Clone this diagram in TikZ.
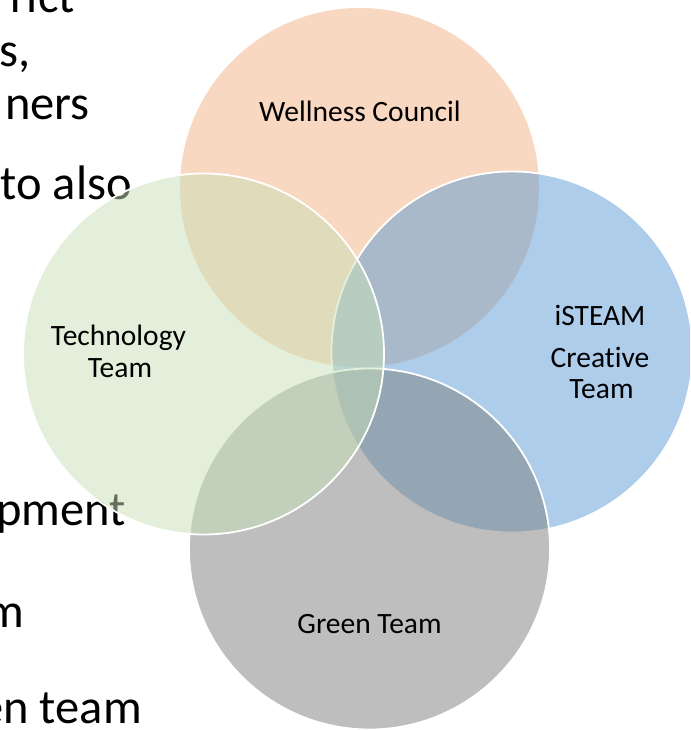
\documentclass[tikz,border=0pt]{standalone}
\usepackage{fontspec}
\setmainfont{Carlito}[Ligatures={NoCommon}]
\definecolor{peachbase}{RGB}{244,177,131}
\definecolor{bluebase}{RGB}{91,155,213}
\definecolor{greenbase}{RGB}{199,224,182}
\definecolor{graybase}{RGB}{125,125,125}
\tikzset{
  venn/.style={circle, inner sep=0pt, minimum size=361pt, draw=white, line width=1.8pt, fill opacity=0.5, draw opacity=1},
  bgtext/.style={anchor=base east, inner sep=0pt, font=\fontsize{48.5}{56}\selectfont, text=black},
  lbl/.style={anchor=base, inner sep=0pt, font=\fontsize{29.5}{32}\selectfont, text=black}
}
\begin{document}
\begin{tikzpicture}[x=1pt,y=-1pt]
\useasboundingbox (0,0) rectangle (690,730);
\clip (0,0) rectangle (690,730);
% background slide text fragments
\node[bgtext] (b1) at (75,13) {rict};
\node[bgtext] (b2) at (31,67) {s,};
\node[bgtext] (b3) at (90,120) {ners};
\node[bgtext] (b4) at (132,199) {to also};
\node[bgtext] (b5) at (126,525) {pment};
\node[bgtext] (b6) at (24,627) {m};
\node[bgtext] (b7) at (142,723) {en team};
% circles
\node[venn, fill=peachbase] (wc) at (359.5,187.5) {};
\node[venn, fill=bluebase] (is) at (512,352) {};
\node[venn, fill=graybase] (gt) at (369.5,549) {};
\node[venn, fill=greenbase] (tt) at (203.5,354) {};
% labels
\node[lbl] (lwc) at (360,122) {Wellness Council};
\node[lbl] (ltt1) at (118.5,345) {Technology};
\node[lbl] (ltt2) at (120,377) {Team};
\node[lbl] (lis1) at (600,325) {iSTEAM};
\node[lbl] (lis2) at (600,367) {Creative};
\node[lbl] (lis3) at (601.5,398) {Team};
\node[lbl] (lgt) at (369.5,633) {Green Team};
\end{tikzpicture}
\end{document}
